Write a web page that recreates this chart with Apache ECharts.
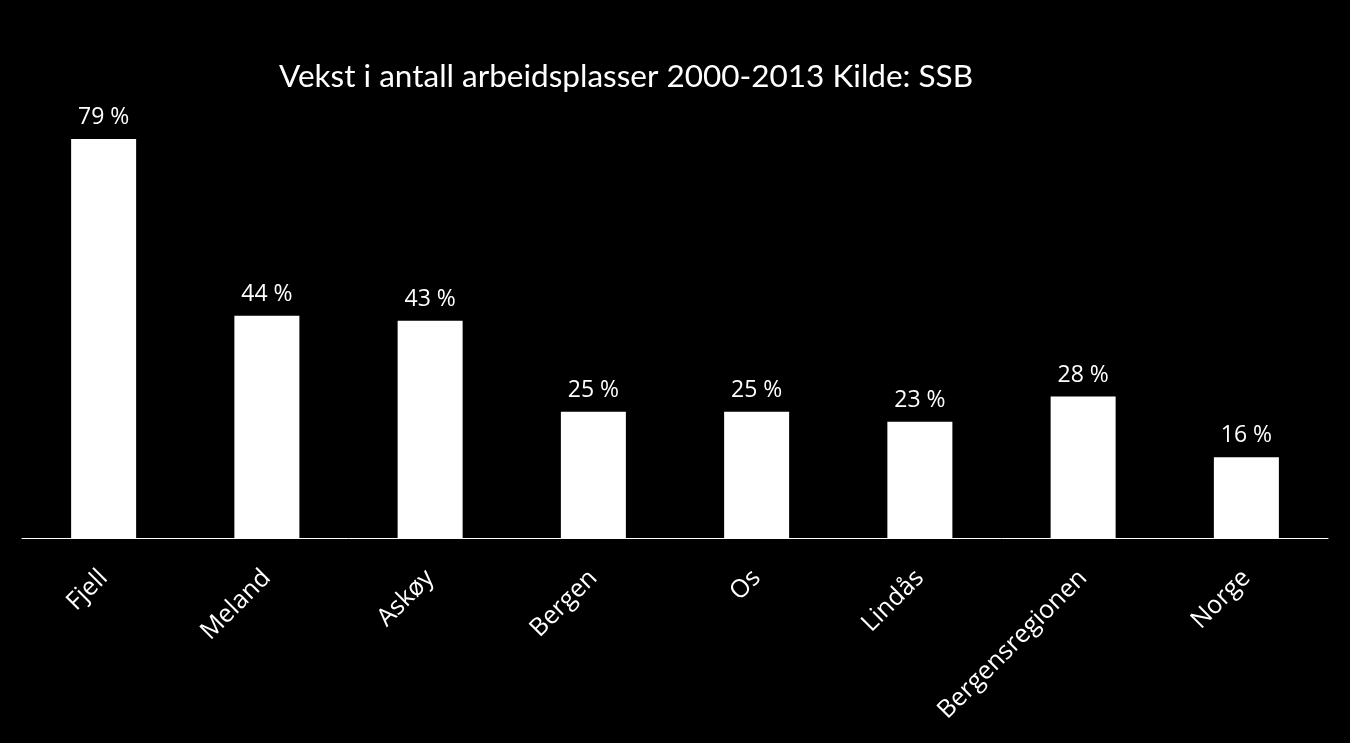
<!DOCTYPE html>
<html><head><meta charset="utf-8">
<script src="https://cdn.jsdelivr.net/npm/echarts@6/dist/echarts.min.js"></script>
<style>html,body{margin:0;padding:0;background:#000}#c{width:1350px;height:743px}</style>
</head><body><div id="c"></div>
<script>
const categories = ['Fjell','Meland','Askøy','Bergen','Os','Lindås','Bergensregionen','Norge'];
const values = [79,44,43,25,25,23,28,16];
const titleText = 'Vekst i antall arbeidsplasser 2000-2013 Kilde: SSB';

const chart = echarts.init(document.getElementById('c'));
chart.setOption({
  backgroundColor: '#000',
  animation: false,
  title: {
    text: titleText, left: 274, top: 56,
    textStyle: {color:'#fff', fontFamily:'Lato', fontWeight:'normal', fontSize:31.5}
  },
  grid: {left:22, right:22, top:33, bottom:205},
  xAxis: {
    type:'category', data: categories,
    axisLine:{lineStyle:{color:'#fff', width:1}},
    axisTick:{show:false},
    axisLabel:{color:'#fff', fontFamily:'Open Sans', fontSize:25, rotate:45, interval:0, margin:36}
  },
  yAxis: {type:'value', min:0, max:100, show:false, splitLine:{show:false}},
  series: [{
    type:'bar', data: values, barWidth:65,
    itemStyle:{color:'#fff'},
    label:{show:true, position:'top', distance:10, color:'#fff', fontFamily:'Open Sans', fontSize:23,
      formatter: p => p.value + ' %'}
  }]
});
</script></body></html>
